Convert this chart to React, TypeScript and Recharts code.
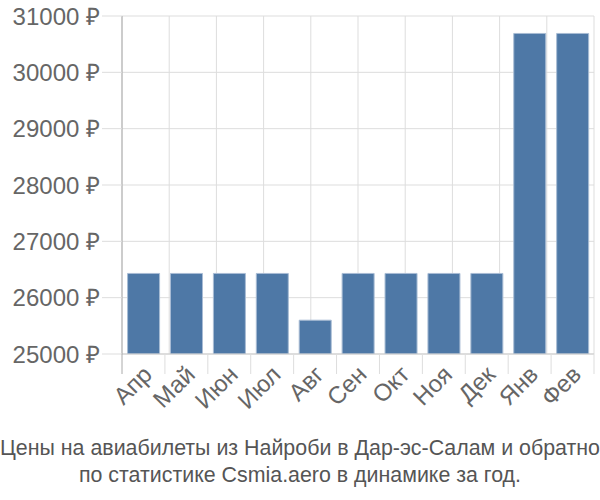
import React from "react";
import { BarChart, Bar, XAxis, YAxis, CartesianGrid } from "recharts";

const months = ["Апр", "Май", "Июн", "Июл", "Авг", "Сен", "Окт", "Ноя", "Дек", "Янв", "Фев"];
const prices = [26430, 26430, 26430, 26430, 25600, 26430, 26430, 26430, 26430, 30690, 30690];
const yTicks = [25000, 26000, 27000, 28000, 29000, 30000, 31000];
const boundaryTicks = [0, 1, 2, 3, 4, 5, 6, 7, 8, 9, 10, 11];
const titleLines = [
  "Цены на авиабилеты из Найроби в Дар-эс-Салам и обратно",
  "по статистике Csmia.aero в динамике за год.",
];

const data = months.map((m, i) => ({ month: m, price: prices[i] }));

const FONT = "'Liberation Sans', Arial, sans-serif";
const CHART_W = 600;
const CHART_H = 430;
const Y_AXIS_W = 122;
const MARGIN = { top: 16, right: 6, left: 0, bottom: 0 };
const PLOT_W = CHART_W - Y_AXIS_W - MARGIN.left - MARGIN.right;
const HALF_BAND = PLOT_W / months.length / 2;

const XTick = (props: any) => {
  const { x, y, payload, index } = props;
  const isLast = index === months.length - 1;
  return (
    <g>
      <line x1={x - HALF_BAND} x2={x - HALF_BAND} y1={y} y2={y + 20} stroke={index === 0 ? "#aaa" : "#ddd"} />
      {isLast && <line x1={x + HALF_BAND} x2={x + HALF_BAND} y1={y} y2={y + 20} stroke="#ddd" />}
      <g transform={`translate(${x + 10},${y + 22})`}>
        <text
          transform="rotate(-45)"
          textAnchor="end"
          fill="#666"
          fontSize={24}
          fontFamily={FONT}
        >
          {payload.value}
        </text>
      </g>
    </g>
  );
};

export default function App() {
  return (
    <div style={{ position: "absolute", left: 0, top: 0, width: 600, height: 500, background: "#fff", overflow: "hidden" }}>
      <BarChart
        width={CHART_W}
        height={CHART_H}
        data={data}
        margin={MARGIN}
        barCategoryGap="13%"
      >
        <XAxis
          xAxisId="grid"
          type="number"
          domain={[0, 11]}
          ticks={boundaryTicks}
          hide
          allowDataOverflow
        />
        <XAxis
          dataKey="month"
          axisLine={{ stroke: "#ccc" }}
          tickLine={false}
          tickSize={0}
          tickMargin={0}
          height={76}
          interval={0}
          tick={<XTick />}
        />
        <YAxis
          domain={[25000, 31000]}
          ticks={yTicks}
          allowDataOverflow
          width={Y_AXIS_W}
          tickSize={20}
          tickMargin={2}
          tickLine={{ stroke: "#ddd" }}
          axisLine={{ stroke: "#aaa" }}
          tickFormatter={(v: number) => `${v} ₽`}
          tick={{ fill: "#666", fontSize: 24, fontFamily: FONT }}
        />
        <CartesianGrid xAxisId="grid" stroke="#ddd" strokeWidth={1} />
        <Bar dataKey="price" fill="#4e78a6" stroke="#a8bcd4" strokeWidth={1} isAnimationActive={false} />
      </BarChart>
      <div
        style={{
          position: "absolute",
          left: -100,
          top: 434,
          width: 800,
          textAlign: "center",
          fontFamily: FONT,
          fontSize: 22.5,
          lineHeight: "27px",
          color: "#555",
          whiteSpace: "nowrap",
          transform: "scaleX(0.95)",
          transformOrigin: "400px 0",
        }}
      >
        {titleLines.map((l) => (
          <div key={l}>{l}</div>
        ))}
      </div>
    </div>
  );
}
